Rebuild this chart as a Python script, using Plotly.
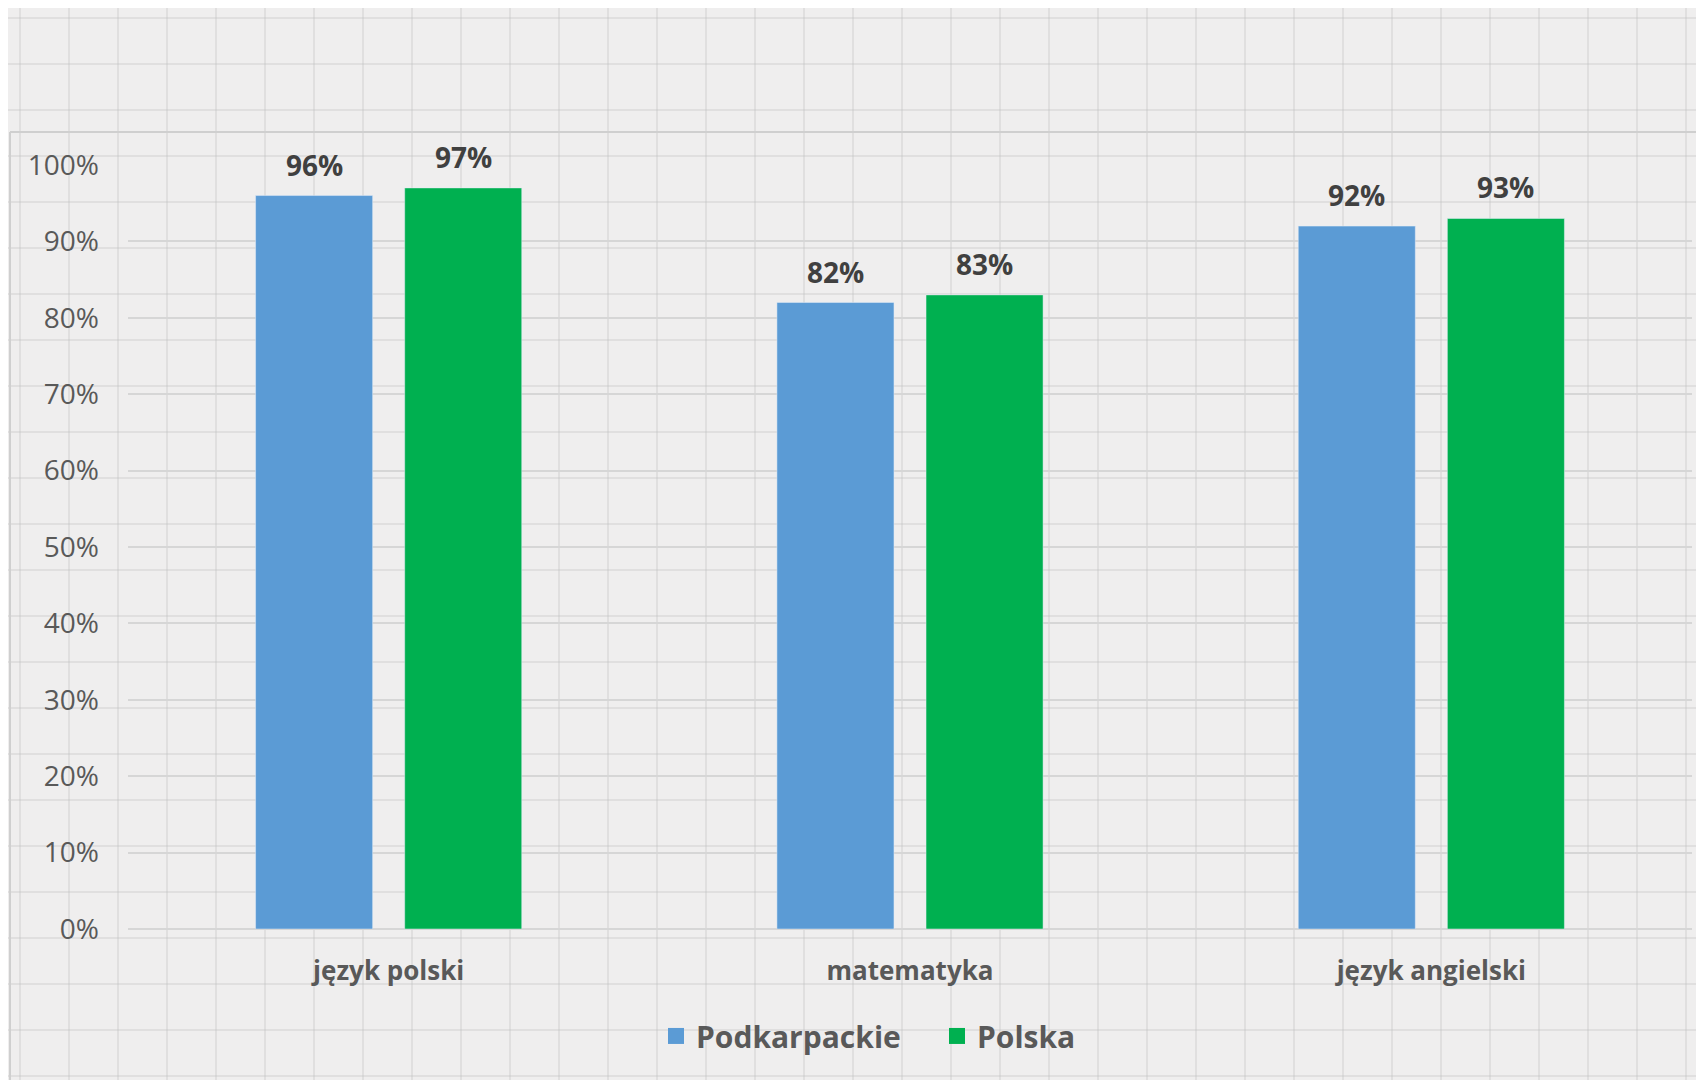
import numpy as np
import plotly.graph_objects as go

subjects = ["język polski", "matematyka", "język angielski"]
podkarpackie = [0.96, 0.82, 0.92]
polska = [0.97, 0.83, 0.93]

W, H = 1704, 1080
L, R, T, B = 120, 20, 157, 159
pw, ph = W - L - R, H - T - B
BARGAP, GROUPGAP = 0.428, 0.215
slot = pw / len(subjects) * (1 - BARGAP) / 2


def px_x(p):
    return (p - L) / pw


def px_y(p):
    return (H - B - p) / ph


fig = go.Figure()
for name, vals, color in [("Podkarpackie", podkarpackie, "#5b9bd5"),
                          ("Polska", polska, "#00b050")]:
    fig.add_trace(go.Bar(x=subjects, y=vals, name=name, showlegend=False,
                         marker=dict(color=color)))
    # legend-only entry with a bigger square swatch
    fig.add_trace(go.Scatter(x=[None], y=[None], mode="markers", name=name,
                             marker=dict(symbol="square", size=20, color=color)))

# value labels above bars
annotations = []
for vals, side in [(podkarpackie, -1), (polska, 1)]:
    for s, v in zip(subjects, vals):
        annotations.append(dict(
            x=s, y=v, xref="x", yref="y", text=f"{v:.0%}", showarrow=False,
            xshift=side * slot / 2, yshift=31, yanchor="middle",
            font=dict(family="Open Sans", size=28, color="#404040", weight="bold"),
        ))

# graph-paper style background
shapes = []
for gx in np.arange(12, W, 49):
    shapes.append(dict(type="line", xref="paper", yref="paper", layer="below",
                       x0=px_x(gx), x1=px_x(gx), y0=px_y(0), y1=px_y(H),
                       line=dict(color="rgba(185,185,185,0.28)", width=2)))
for gy in np.arange(10, H, 46):
    shapes.append(dict(type="line", xref="paper", yref="paper", layer="below",
                       x0=px_x(0), x1=px_x(W), y0=px_y(gy), y1=px_y(gy),
                       line=dict(color="rgba(185,185,185,0.28)", width=2)))
# chart area frame
shapes.append(dict(type="line", xref="paper", yref="paper", layer="below",
                   x0=px_x(2), x1=px_x(2), y0=px_y(124), y1=px_y(H),
                   line=dict(color="#cfcfcf", width=2)))
shapes.append(dict(type="line", xref="paper", yref="paper", layer="below",
                   x0=px_x(2), x1=px_x(W), y0=px_y(124), y1=px_y(124),
                   line=dict(color="#cfcfcf", width=2)))

fig.update_layout(
    width=W, height=H,
    margin=dict(l=L, r=R, t=T, b=B),
    paper_bgcolor="#efeeee",
    plot_bgcolor="rgba(0,0,0,0)",
    font=dict(family="Open Sans", color="#595959"),
    barmode="group",
    bargap=BARGAP,
    bargroupgap=GROUPGAP,
    shapes=shapes,
    annotations=annotations,
    showlegend=True,
    legend=dict(orientation="h", x=px_x(648), xanchor="left", y=-0.14, yanchor="middle",
                font=dict(size=30, color="#595959", weight="bold"),
                itemwidth=30, itemsizing="trace", entrywidth=236,
                bgcolor="rgba(0,0,0,0)"),
    xaxis=dict(showgrid=False, showline=False, ticks="",
               tickfont=dict(size=26, color="#595959", weight="bold"),
               ticklabelstandoff=24),
    yaxis=dict(range=[0, 1], dtick=0.1, tickformat=".0%",
               showgrid=True, gridcolor="#d6d6d6", gridwidth=2,
               zeroline=True, zerolinecolor="#d6d6d6", zerolinewidth=2,
               showline=False, ticks="",
               tickfont=dict(size=28, color="#595959"),
               ticklabelstandoff=28),
)

fig.write_html("out.html")
